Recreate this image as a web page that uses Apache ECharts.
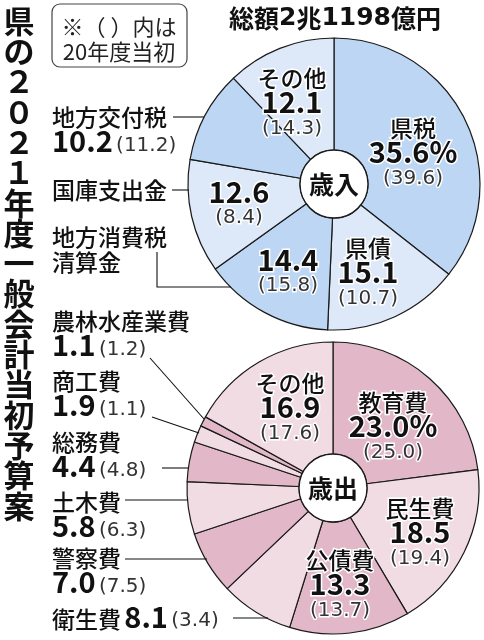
<!DOCTYPE html>
<html>
<head>
<meta charset="utf-8">
<script src="https://cdn.jsdelivr.net/npm/echarts@6/dist/echarts.min.js"></script>
<style>
html, body { margin: 0; padding: 0; background: #fff; }
#main { width: 484px; height: 640px; }
</style>
</head>
<body>
<div id="main"></div>
<script>
// 歳入
var revNames = ['県税', '県債', '地方消費税清算金', '国庫支出金', '地方交付税', 'その他'];
var revValues = [35.6, 15.1, 14.4, 12.6, 10.2, 12.1];
var revPrev = [39.6, 10.7, 15.8, 8.4, 11.2, 14.3];
// 歳出
var expNames = ['教育費', '民生費', '公債費', '衛生費', '警察費', '土木費', '総務費', '商工費', '農林水産業費', 'その他'];
var expValues = [23.0, 18.5, 13.3, 8.1, 7.0, 5.8, 4.4, 1.9, 1.1, 16.9];
var expPrev = [25.0, 19.4, 13.7, 3.4, 7.5, 6.3, 4.8, 1.1, 1.2, 17.6];

var FONT = '"Noto Sans CJK JP", sans-serif';
var NUMFONT = '"DejaVu Sans", sans-serif';
var chart = echarts.init(document.getElementById('main'));

// ラベルの種類と位置 [x, y, align, kind]
var revLabel = [
    [413, 153, 'center', 'full'],
    [368, 273, 'center', 'full'],
    [288, 273, 'center', 'val'],
    [239, 205, 'center', 'val'],
    [52, 130, 'left', 'side'],
    [292, 103, 'center', 'full']
];
var expLabel = [
    [393, 427, 'center', 'full'],
    [420, 533, 'center', 'full'],
    [340, 585, 'center', 'full'],
    [52, 618, 'left', 'line'],
    [52, 571, 'left', 'side'],
    [52, 515, 'left', 'side'],
    [52, 455, 'left', 'side'],
    [52, 394, 'left', 'side'],
    [52, 334, 'left', 'side'],
    [290, 408, 'center', 'full']
];

var rich = {
    n: { fontFamily: FONT, fontSize: 23, fontWeight: 500, color: '#111', lineHeight: 25, textBorderColor: '#fff', textBorderWidth: 3 },
    v: { fontFamily: FONT, fontSize: 29, fontWeight: 'bold', color: '#111', lineHeight: 26, verticalAlign: 'bottom', textBorderColor: '#fff', textBorderWidth: 3 },
    p: { fontFamily: NUMFONT, fontSize: 20, color: '#333', lineHeight: 24, textBorderColor: '#fff', textBorderWidth: 3 },
    q: { fontFamily: NUMFONT, fontSize: 20, color: '#333', lineHeight: 20, verticalAlign: 'bottom' },
    m: { fontFamily: FONT, fontSize: 23, fontWeight: 500, color: '#111', lineHeight: 23, verticalAlign: 'bottom' }
};

function makeFormatter(labels, prev) {
    return function (params) {
        var i = params.dataIndex;
        var kind = labels[i][3];
        var v = params.value.toFixed(1) + (i === 0 ? '%' : '');
        var p = '(' + prev[i].toFixed(1) + ')';
        if (kind == 'full') return '{n|' + params.name + '}\n{v|' + v + '}\n{p|' + p + '}';
        if (kind == 'val') return '{v|' + v + '}\n{p|' + p + '}';
        if (kind == 'side') return '{n|' + params.name + '}\n{v|' + v + '} {q|' + p + '}';
        return '{m|' + params.name + '} {v|' + v + '} {q|' + p + '}';
    };
}

function makeData(names, values, c1, c2) {
    var d = [];
    for (var i = 0; i < names.length; i++) {
        d.push({ name: names[i], value: values[i], itemStyle: { color: i % 2 == 0 ? c1 : c2 } });
    }
    return d;
}

function pieSeries(center, names, values, prev, labels, c1, c2) {
    return {
        type: 'pie',
        center: center,
        radius: [34, 146],
        startAngle: 90,
        clockwise: true,
        avoidLabelOverlap: false,
        silent: true,
        itemStyle: { borderColor: '#1a1a1a', borderWidth: 1.2 },
        label: { show: true, position: 'inside', formatter: makeFormatter(labels, prev), rich: rich },
        labelLine: { show: false },
        labelLayout: function (p) {
            var q = labels[p.dataIndex];
            return { x: q[0], y: q[1], align: q[2], verticalAlign: 'middle' };
        },
        data: makeData(names, values, c1, c2)
    };
}

// 引き出し線
var leaders = [
    [[173, 117], [204, 117]],
    [[172, 190], [189, 190]],
    [[157, 252], [157, 287], [231, 287]],
    [[150, 358], [204, 419]],
    [[152, 417], [199, 433]],
    [[162, 468], [188, 468]],
    [[125, 500], [188, 500]],
    [[125, 559], [207, 559]],
    [[233, 618], [268, 618]]
];

var graphics = [];
var title = '県の２０２１年度一般会計当初予算案';
for (var i = 0; i < title.length; i++) {
    graphics.push({
        type: 'text', x: 19, y: 21 + i * 30.3, z: 100,
        style: { text: title[i], fontFamily: FONT, fontSize: 31, fontWeight: 'bold', fill: '#111', align: 'center', verticalAlign: 'middle' }
    });
}
graphics.push({
    type: 'rect', z: 100, shape: { x: 52, y: 4, width: 135, height: 63, r: 8 },
    style: { fill: 'none', stroke: '#444', lineWidth: 1.2 }
});
graphics.push({
    type: 'text', x: 119, y: 27, z: 100,
    style: { text: '※（ ）内は', fontFamily: FONT, fontSize: 22, fill: '#222', align: 'center', verticalAlign: 'middle' }
});
graphics.push({
    type: 'text', x: 119, y: 52, z: 100,
    style: { text: '20年度当初', fontFamily: FONT, fontSize: 22, fill: '#222', align: 'center', verticalAlign: 'middle' }
});
graphics.push({
    type: 'text', x: 335, y: 18, z: 100,
    style: {
        text: '{c|総額}{d|2}{c|兆}{d|1198}{c|億円}', align: 'center', verticalAlign: 'middle',
        rich: {
            c: { fontFamily: FONT, fontSize: 25, fontWeight: 'bold', fill: '#111' },
            d: { fontFamily: NUMFONT, fontSize: 25, fontWeight: 'bold', fill: '#111' }
        }
    }
});
// 外側の項目名
graphics.push({
    type: 'text', x: 52, y: 190, z: 100,
    style: { text: '国庫支出金', fontFamily: FONT, fontSize: 23, fontWeight: 500, fill: '#111', align: 'left', verticalAlign: 'middle' }
});
graphics.push({
    type: 'text', x: 52, y: 250, z: 100,
    style: { text: '地方消費税\n清算金', fontFamily: FONT, fontSize: 23, fontWeight: 500, lineHeight: 25, fill: '#111', align: 'left', verticalAlign: 'middle' }
});
leaders.forEach(function (pts) {
    graphics.push({ type: 'polyline', z: 100, shape: { points: pts }, style: { stroke: '#111', lineWidth: 1.1, fill: 'none' } });
});
// 中央の円
[[334, 184, '歳入'], [333, 488, '歳出']].forEach(function (c) {
    graphics.push({ type: 'circle', z: 100, shape: { cx: c[0], cy: c[1], r: 34 }, style: { fill: '#fff', stroke: '#1a1a1a', lineWidth: 1.3 } });
    graphics.push({
        type: 'text', x: c[0], y: c[1], z: 101,
        style: { text: c[2], fontFamily: FONT, fontSize: 25, fontWeight: 'bold', fill: '#111', align: 'center', verticalAlign: 'middle' }
    });
});

var option = {
    animation: false,
    backgroundColor: '#fff',
    graphic: { elements: graphics },
    series: [
        pieSeries([334, 184], revNames, revValues, revPrev, revLabel, '#bcd6f3', '#dde9f8'),
        pieSeries([333, 488], expNames, expValues, expPrev, expLabel, '#e2b8c8', '#f1dce4')
    ]
};
chart.setOption(option);

window.addEventListener('resize', function () {
    chart.resize();
});
</script>
</body>
</html>
